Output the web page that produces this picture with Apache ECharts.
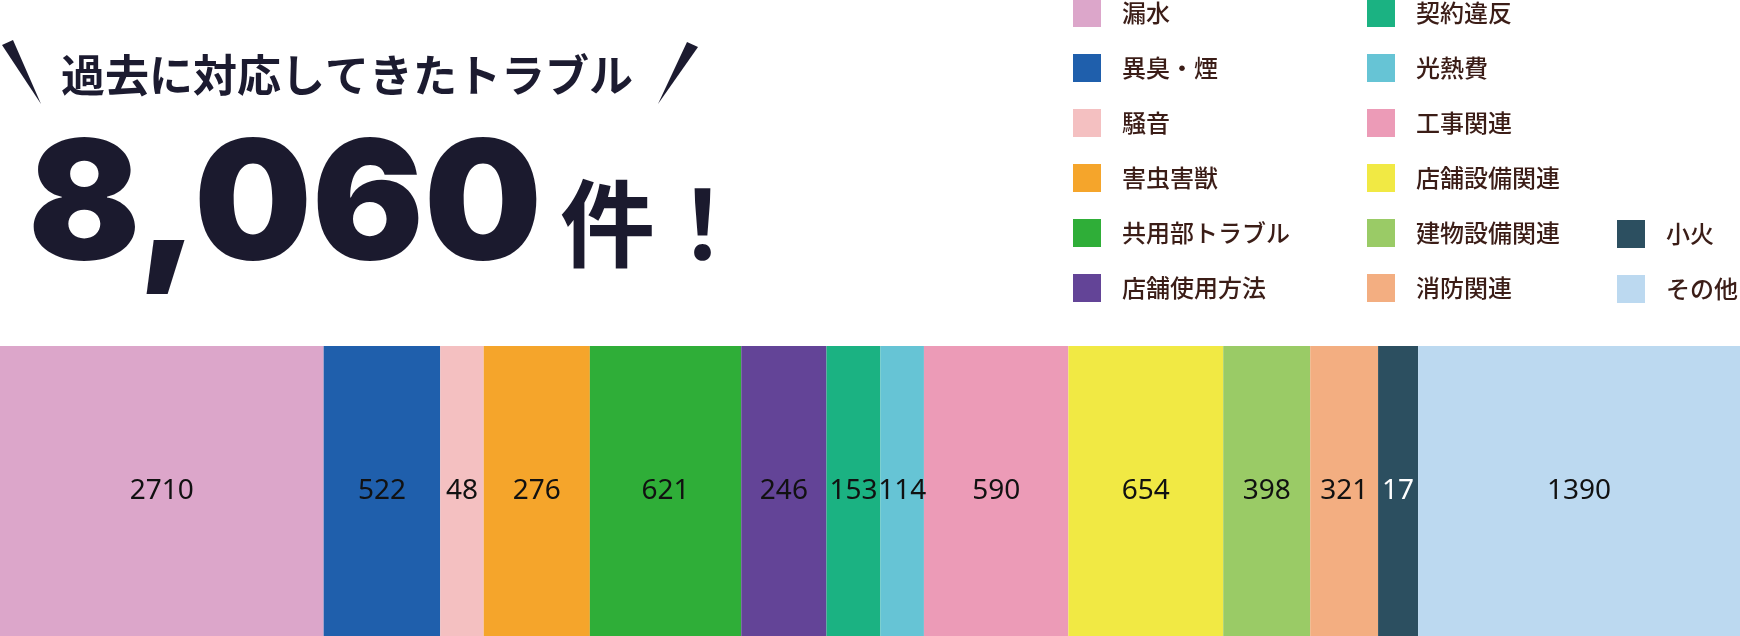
<!DOCTYPE html>
<html>
<head>
<meta charset="utf-8">
<script src="https://cdn.jsdelivr.net/npm/echarts@6/dist/echarts.min.js"></script>
<style>
    html, body {margin: 0; padding: 0; background: #fff;}
    #main {width: 1740px; height: 636px;}
</style>
</head>
<body>
<div id="main"></div>
<script>
// トラブルの種類
var categories = ['漏水', '異臭・煙', '騒音', '害虫害獣', '共用部トラブル', '店舗使用方法',
    '契約違反', '光熱費', '工事関連', '店舗設備関連', '建物設備関連', '消防関連', '小火', 'その他'];
// 件数（ラベル）
var counts = [2710, 522, 48, 276, 621, 246, 153, 114, 590, 654, 398, 321, 17, 1390];
// 帯の中で各項目が占める割合（%、図から読み取り）
var barShares = [18.6, 6.7, 2.5, 6.1, 8.7, 4.9, 3.1, 2.5, 8.3, 8.9, 5.0, 3.9, 2.3, 18.5];
var colors = ['#dca6ca', '#1f5fac', '#f4c0c1', '#f5a52b', '#2fae38', '#634497', '#1bb282',
    '#66c4d5', '#ec9bb7', '#f1e944', '#9acb66', '#f3ae81', '#2c4f60', '#bcd9f0'];
var totalText = '8,060';
var titleText = '過去に対応してきたトラブル';

var dom = document.getElementById('main');
var myChart = echarts.init(dom);
var option = null;

var series = [];
for (var i = 0; i < categories.length; i++) {
    series.push({
        name: categories[i],
        type: 'bar',
        stack: 'total',
        barWidth: '100%',
        itemStyle: {color: colors[i]},
        label: {
            show: true,
            position: 'inside',
            fontFamily: 'Noto Sans',
            fontSize: 28,
            color: categories[i] === '小火' ? '#ffffff' : '#111111',
            formatter: (function (n) {
                return function () { return String(n); };
            })(counts[i])
        },
        emphasis: {disabled: true},
        data: [barShares[i]]
    });
}

var legendBase = {
    orient: 'vertical',
    icon: 'rect',
    padding: 0,
    itemWidth: 28,
    itemHeight: 28,
    itemGap: 27,
    selectedMode: false,
    textStyle: {
        fontFamily: 'Noto Sans CJK JP',
        fontSize: 24,
        fontWeight: 500,
        color: '#3b1d17',
        padding: [0, 0, 0, 16]
    }
};

option = {
    animation: false,
    backgroundColor: '#ffffff',
    legend: [
        Object.assign({}, legendBase, {data: categories.slice(0, 6), left: 1073, top: -1}),
        Object.assign({}, legendBase, {data: categories.slice(6, 12), left: 1367, top: -1}),
        Object.assign({}, legendBase, {data: categories.slice(12), left: 1617, top: 220})
    ],
    grid: {left: 0, right: 0, top: 346, bottom: 0},
    xAxis: {type: 'value', min: 0, max: 100, show: false},
    yAxis: {type: 'category', data: ['トラブル'], show: false},
    graphic: [
        {type: 'polygon', shape: {points: [[2, 45], [13, 40], [41, 104]]}, style: {fill: '#1c1b30'}},
        {type: 'polygon', shape: {points: [[687, 42], [698, 47], [658, 104]]}, style: {fill: '#1c1b30'}},
        {
            type: 'text', x: 347, y: 75,
            style: {
                text: titleText, align: 'center', verticalAlign: 'middle',
                fontFamily: 'Noto Sans CJK JP', fontWeight: 'bold', fontSize: 44, fill: '#1c1b30'
            }
        },
        {
            type: 'text', x: 28, y: 209,
            style: {
                text: totalText, align: 'left', verticalAlign: 'middle',
                fontFamily: 'Inter', fontWeight: 900, fontSize: 166, fill: '#1b1a2e'
            }
        },
        {
            type: 'text', x: 560, y: 224,
            style: {
                text: '件！', align: 'left', verticalAlign: 'middle',
                fontFamily: 'Noto Sans CJK JP', fontWeight: 'bold', fontSize: 95, fill: '#1b1a2e'
            }
        }
    ],
    series: series
};

if (option && typeof option === "object") {
    myChart.setOption(option, true);
}
</script>
</body>
</html>
